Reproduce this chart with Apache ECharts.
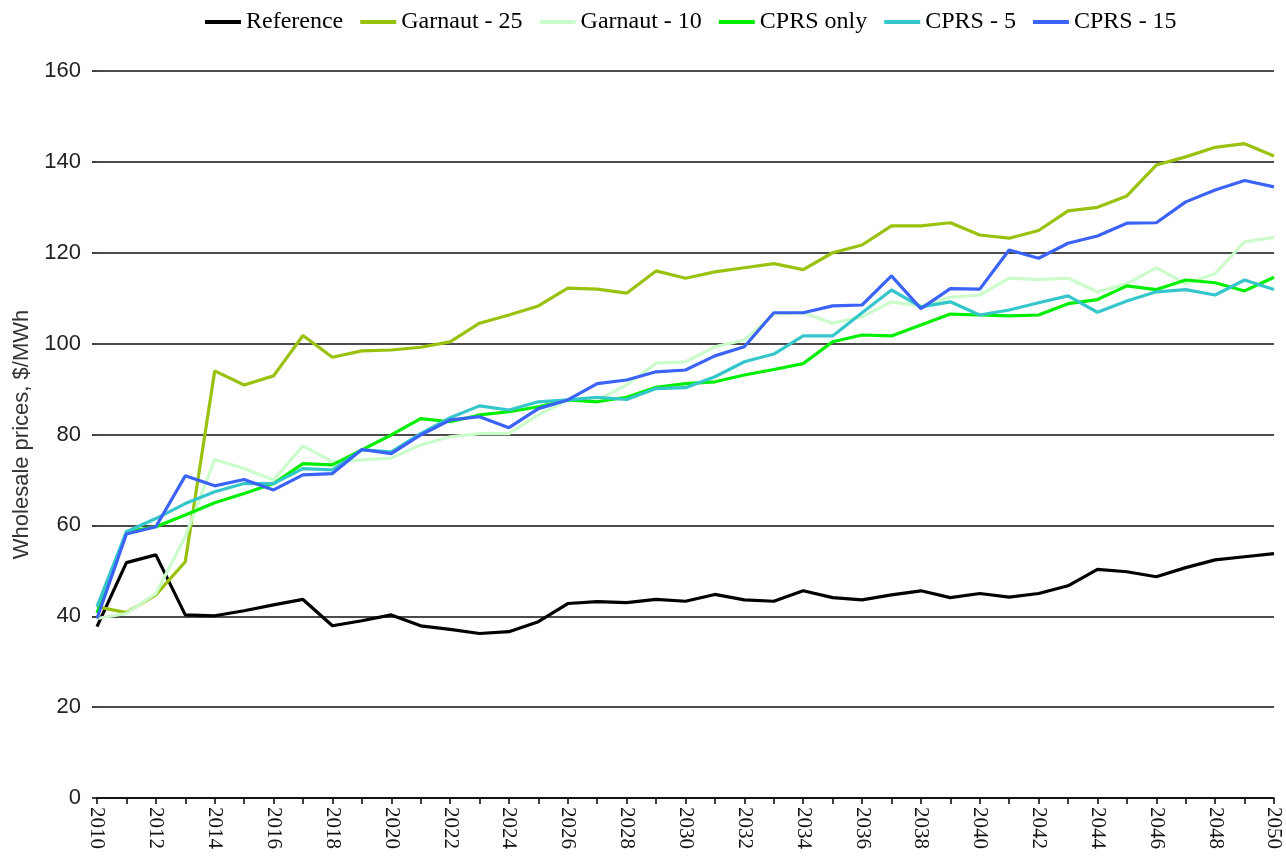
<!DOCTYPE html>
<html>
<head>
<meta charset="utf-8">
<script src="https://cdn.jsdelivr.net/npm/echarts@6/dist/echarts.min.js"></script>
<style>
  html, body { margin: 0; padding: 0; background: #fff; }
  #chart { width: 1286px; height: 864px; }
</style>
</head>
<body>
<div id="chart"></div>
<script>
// years 2010 - 2050
var years = [];
for (var y = 2010; y <= 2050; y++) years.push(String(y));

var yTicks = [0, 20, 40, 60, 80, 100, 120, 140, 160];

var reference = [37.7, 51.8, 53.5, 40.3, 40.1, 41.2, 42.5, 43.7, 37.9, 39.0,
  40.3, 37.9, 37.1, 36.2, 36.6, 38.8, 42.8, 43.2, 43.0, 43.7,
  43.3, 44.8, 43.6, 43.3, 45.6, 44.1, 43.6, 44.7, 45.6, 44.1,
  45.0, 44.2, 45.0, 46.7, 50.3, 49.8, 48.7, 50.7, 52.4, 53.1, 53.8];

var garnaut25 = [42.1, 40.8, 44.7, 52.0, 94.0, 90.9, 92.9, 101.8, 97.0, 98.4,
  98.6, 99.2, 100.4, 104.5, 106.3, 108.3, 112.2, 112.0, 111.1, 116.0,
  114.4, 115.8, 116.7, 117.6, 116.3, 120.0, 121.7, 125.9, 125.9, 126.6,
  123.9, 123.2, 124.9, 129.2, 130.0, 132.5, 139.3, 141.1, 143.2, 144.0, 141.3];

var garnaut10 = [39.5, 40.6, 45.0, 57.5, 74.5, 72.5, 70.0, 77.5, 74.0, 74.4,
  74.8, 77.7, 79.5, 80.2, 80.2, 84.3, 87.6, 87.6, 90.9, 95.7,
  96.0, 99.3, 100.8, 106.5, 106.8, 104.5, 105.9, 109.2, 108.3, 110.2,
  110.7, 114.4, 114.1, 114.4, 111.4, 113.2, 116.7, 113.2, 115.4, 122.4, 123.4];

var cprsOnly = [40.7, 58.6, 59.7, 62.3, 65.0, 67.0, 69.2, 73.6, 73.3, 76.6,
  79.9, 83.5, 82.8, 84.3, 85.0, 86.1, 87.6, 87.2, 88.2, 90.4,
  91.2, 91.6, 93.1, 94.3, 95.6, 100.4, 101.9, 101.7, 104.1, 106.5,
  106.3, 106.1, 106.3, 108.8, 109.7, 112.7, 111.9, 114.0, 113.4, 111.6, 114.6];

var cprs5 = [42.1, 58.6, 61.5, 64.8, 67.4, 69.2, 69.2, 72.5, 72.2, 76.6,
  76.2, 80.2, 83.7, 86.3, 85.4, 87.2, 87.6, 88.2, 87.7, 90.1,
  90.3, 92.7, 96.0, 97.7, 101.7, 101.7, 106.8, 111.8, 108.1, 109.2,
  106.3, 107.4, 109.0, 110.5, 106.9, 109.4, 111.4, 111.9, 110.7, 114.0, 111.9];

var cprs15 = [39.5, 58.1, 59.7, 70.9, 68.7, 70.1, 67.8, 71.1, 71.4, 76.7,
  75.8, 79.9, 83.2, 83.9, 81.5, 85.7, 87.6, 91.2, 92.0, 93.8,
  94.2, 97.3, 99.3, 106.8, 106.8, 108.3, 108.5, 114.9, 107.7, 112.1,
  112.0, 120.6, 118.8, 122.1, 123.7, 126.5, 126.6, 131.2, 133.8, 135.9, 134.5];

var seriesNames = ['Reference', 'Garnaut - 25', 'Garnaut - 10', 'CPRS only', 'CPRS - 5', 'CPRS - 15'];
var seriesData = [reference, garnaut25, garnaut10, cprsOnly, cprs5, cprs15];
var colors = ['#000000', '#99c20e', '#ccfccc', '#00ee00', '#35c6cc', '#3b63f7'];

var chart = echarts.init(document.getElementById('chart'));

chart.setOption({
  animation: false,
  color: colors,
  grid: { left: 97, right: 12, top: 71, bottom: 66, containLabel: false },
  legend: {
    top: 5,
    left: 200,
    icon: 'rect',
    itemWidth: 36,
    itemHeight: 4,
    itemGap: 17,
    textStyle: { fontFamily: 'Liberation Serif', fontSize: 24, color: '#000' },
    data: seriesNames
  },
  xAxis: {
    type: 'category',
    boundaryGap: false,
    data: years,
    axisLine: { show: true, lineStyle: { color: '#000', width: 1.5 } },
    axisTick: { show: true, interval: 0, length: 6, lineStyle: { color: '#000', width: 1.5 } },
    axisLabel: {
      interval: 1,
      rotate: -90,
      margin: 9,
      fontFamily: 'Liberation Serif',
      fontSize: 21,
      color: '#111'
    },
    splitLine: { show: false }
  },
  yAxis: {
    type: 'value',
    min: yTicks[0],
    max: yTicks[yTicks.length - 1],
    interval: 20,
    name: 'Wholesale prices, $/MWh',
    nameLocation: 'middle',
    nameGap: 64,
    nameTextStyle: { fontFamily: 'Liberation Sans', fontSize: 22, color: '#333' },
    axisLine: { show: false },
    axisTick: { show: true, length: 5, lineStyle: { color: '#000', width: 1.5 } },
    axisLabel: { margin: 16, fontFamily: 'Liberation Sans', fontSize: 22, color: '#222' },
    splitLine: { show: true, lineStyle: { color: '#111', width: 1.5 } }
  },
  series: seriesNames.map(function (name, i) {
    return {
      name: name,
      type: 'line',
      data: seriesData[i],
      symbol: 'none',
      lineStyle: { width: 3.2, color: colors[i] },
      itemStyle: { color: colors[i] }
    };
  })
});
</script>
</body>
</html>
